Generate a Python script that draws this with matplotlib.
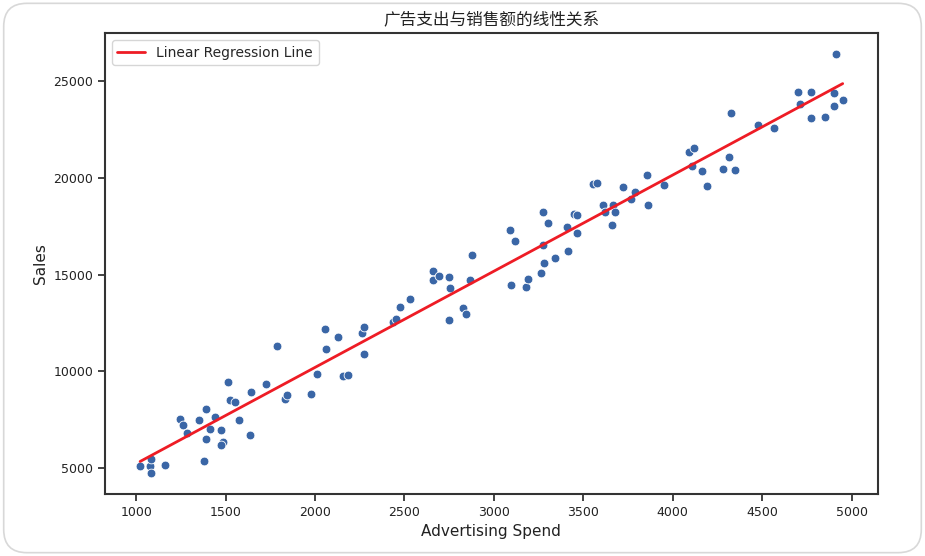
import numpy as np
import matplotlib
matplotlib.use("Agg")
import matplotlib.pyplot as plt
import seaborn as sns
from matplotlib.patches import FancyBboxPatch

# values
ad_spend = [
    1022, 1078, 1081, 1081, 1159, 1243, 1260, 1286, 1349, 1388,
    1388, 1377, 1410, 1442, 1477, 1485, 1477, 1516, 1527, 1555,
    1577, 1639, 1644, 1728, 1789, 1834, 1845, 1979, 2012, 2057,
    2062, 2128, 2157, 2183, 2263, 2274, 2274, 2434, 2453, 2475,
    2531, 2659, 2659, 2692, 2748, 2754, 2748, 2826, 2843, 2865,
    2876, 3088, 3116, 3094, 3177, 3191, 3266, 3278, 3272, 3272,
    3300, 3344, 3417, 3411, 3445, 3467, 3467, 3556, 3579, 3612,
    3623, 3668, 3679, 3662, 3723, 3768, 3789, 3857, 3863, 3952,
    4091, 4119, 4108, 4164, 4192, 4282, 4314, 4348, 4325, 4476,
    4565, 4699, 4710, 4771, 4771, 4849, 4911, 4900, 4900, 4950,
]
sales = [
    5088, 5103, 5429, 4726, 5139, 7515, 7205, 6823, 7463, 8031,
    6482, 5346, 7029, 7634, 6947, 6358, 6172, 9426, 8496, 8393,
    7463, 6689, 8909, 9322, 11285, 8548, 8770, 8806, 9839, 12162,
    11130, 11749, 9735, 9787, 11956, 12266, 10871, 12539, 12694, 13299,
    13712, 15209, 14744, 14951, 14899, 14280, 12627, 13247, 12937, 14693,
    16036, 17327, 16748, 14435, 14331, 14796, 15106, 15622, 16552, 18256,
    17688, 15880, 16242, 17481, 18153, 18101, 17172, 19702, 19754, 18617,
    18256, 18617, 18256, 17585, 19547, 18927, 19253, 20166, 18617, 19650,
    21354, 21561, 20611, 20373, 19598, 20477, 21096, 20425, 23368, 22749,
    22594, 24453, 23849, 24453, 23110, 23162, 26415, 24401, 23730, 24040,
]

title = "广告支出与销售额的线性关系"
x_label = "Advertising Spend"
y_label = "Sales"
line_label = "Linear Regression Line"

sns.set_style("ticks")
plt.rcParams["font.family"] = ["DejaVu Sans", "Noto Sans CJK SC"]

fig = plt.figure(figsize=(9.25, 5.56), dpi=100)
ax = fig.add_axes([0.1135, 0.1115, 0.8355, 0.829])

x = np.array(ad_spend, dtype=float)
y = np.array(sales, dtype=float)
sns.scatterplot(x=x, y=y, ax=ax, color="#3a66a6", s=40, edgecolor="white", linewidth=0.6)

slope, intercept = np.polyfit(x, y, 1)
order = np.argsort(x)
ax.plot(x[order], slope * x[order] + intercept, color="#ee1c25", linewidth=2, label=line_label)

ax.set_title(title, fontsize=12, color="#222222", pad=6,
             family=["Noto Sans CJK SC", "DejaVu Sans"])
ax.set_xlabel(x_label, fontsize=11, color="#222222")
ax.set_ylabel(y_label, fontsize=11, color="#222222")
ax.tick_params(labelsize=9, colors="#222222", length=5, width=1.2)
for spine in ax.spines.values():
    spine.set_visible(True)
    spine.set_linewidth(1.5)
    spine.set_color("#333333")
ax.set_xticks([1000, 1500, 2000, 2500, 3000, 3500, 4000, 4500, 5000])
ax.set_yticks([5000, 10000, 15000, 20000, 25000])
ax.legend(loc="upper left", fontsize=10, frameon=True)

frame = FancyBboxPatch((0.004, 0.006), 0.992, 0.988, boxstyle="round,pad=0,rounding_size=0.025",
                       transform=fig.transFigure, facecolor="none", edgecolor="#d8d8d8",
                       linewidth=1.2, mutation_aspect=925 / 556)
fig.patches.append(frame)

fig.savefig("out.png", dpi=100)
